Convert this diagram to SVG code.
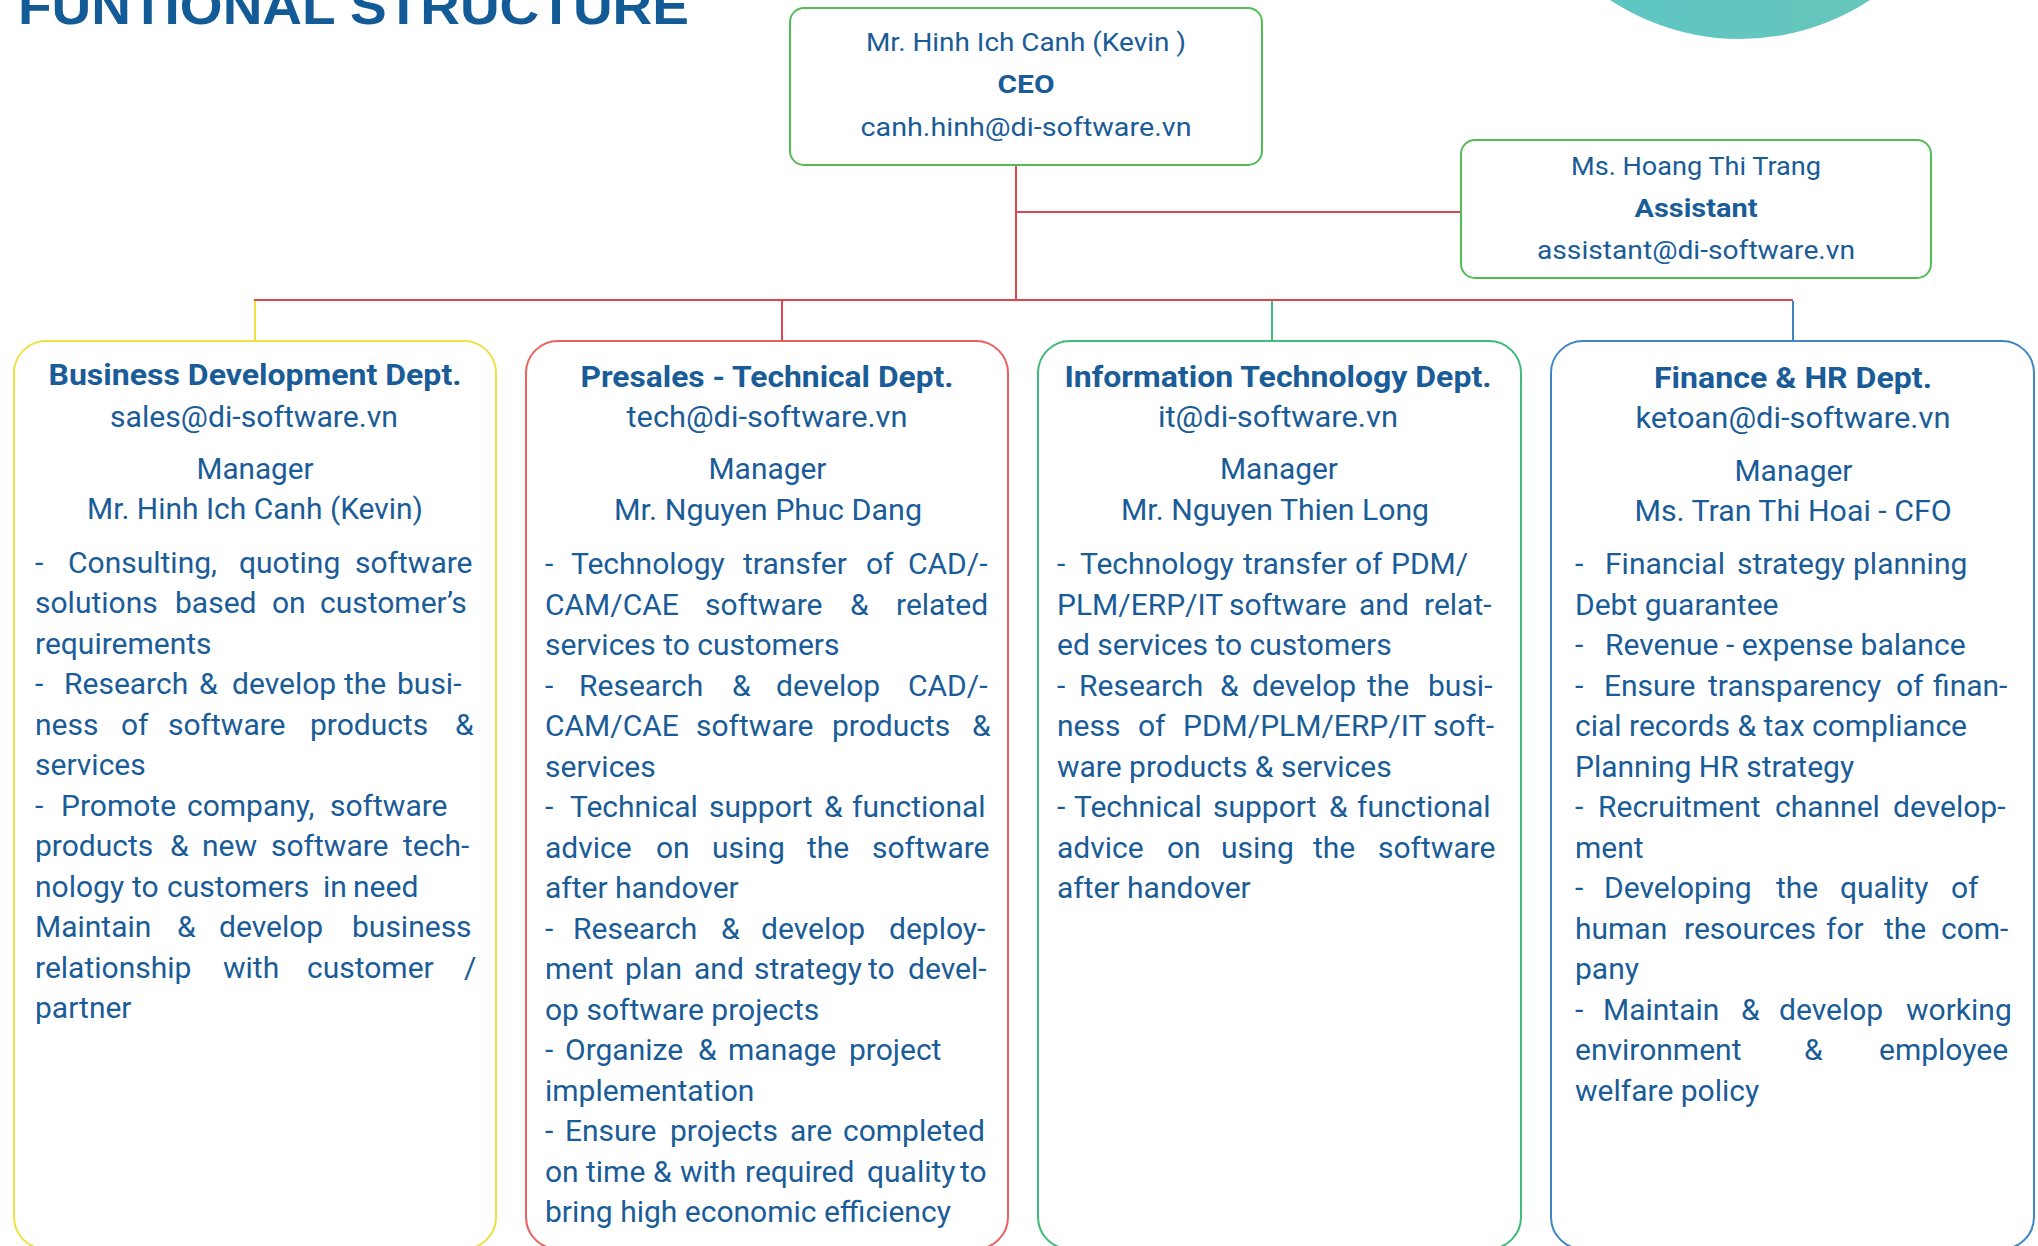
<svg xmlns="http://www.w3.org/2000/svg" width="2038" height="1246" viewBox="0 0 2038 1246">
<defs>
<linearGradient id="teal" x1="0" y1="0" x2="1" y2="0">
<stop offset="0" stop-color="#5DC6C7"/>
<stop offset="1" stop-color="#68C6B7"/>
</linearGradient>
</defs>
<style>
text{font-family:Roboto,"Liberation Sans",sans-serif;fill:#1A5C97;font-size:30px}
.c{text-anchor:middle}
.b{font-weight:bold}
.s{font-size:26.5px}
.box{fill:#fff;stroke-width:2}
.conn{fill:none;stroke-width:2}
.title{font-family:"Liberation Sans",Arial,sans-serif;font-weight:bold;font-size:52px;fill:#135B97}
</style>
<rect width="2038" height="1246" fill="#fff"/>
<circle cx="1740" cy="-197" r="236" fill="url(#teal)"/>
<text class="title" x="18" y="24" textLength="671" lengthAdjust="spacingAndGlyphs">FUNTIONAL STRUCTURE</text>

<g id="connectors">
<path class="conn" stroke="#DC4650" d="M1016 165V300M1016 212H1461M254 300H1793M782 300V341"/>
<path class="conn" stroke="#EEE142" d="M255 301V341"/>
<path class="conn" stroke="#3DBB78" d="M1272 301V341"/>
<path class="conn" stroke="#3F86C6" d="M1793 301V341"/>
</g>

<g id="ceo">
<rect class="box" x="790" y="8" width="472" height="157" rx="14" stroke="#52BD52"/>
<text class="c s" x="1026" y="51" textLength="320" lengthAdjust="spacingAndGlyphs">Mr. Hinh Ich Canh (Kevin )</text>
<text class="c s b" x="1026" y="93" textLength="57" lengthAdjust="spacingAndGlyphs">CEO</text>
<text class="c s" x="1026" y="135.5" textLength="331" lengthAdjust="spacingAndGlyphs">canh.hinh@di-software.vn</text>
</g>

<g id="assistant">
<rect class="box" x="1461" y="140" width="470" height="138" rx="14" stroke="#52BD52"/>
<text class="c s" x="1696" y="175" textLength="250" lengthAdjust="spacingAndGlyphs">Ms. Hoang Thi Trang</text>
<text class="c s b" x="1696" y="217" textLength="123" lengthAdjust="spacingAndGlyphs">Assistant</text>
<text class="c s" x="1696" y="259" textLength="318" lengthAdjust="spacingAndGlyphs">assistant@di-software.vn</text>
</g>

<g id="business">
<rect class="box" x="14" y="341" width="482" height="908" rx="32" stroke="#EEE142"/>
<text class="c b" x="255" y="385" textLength="413" lengthAdjust="spacingAndGlyphs">Business Development Dept.</text>
<text class="c" x="254" y="427" textLength="288" lengthAdjust="spacingAndGlyphs">sales@di-software.vn</text>
<text class="c" x="255" y="479" textLength="117" lengthAdjust="spacingAndGlyphs">Manager</text>
<text class="c" x="255" y="519" textLength="336" lengthAdjust="spacingAndGlyphs">Mr. Hinh Ich Canh (Kevin)</text>
<text y="572.5"><tspan x="35">-</tspan><tspan x="68">Consulting,</tspan><tspan x="239">quoting</tspan><tspan x="355">software</tspan></text>
<text y="613"><tspan x="35">solutions</tspan><tspan x="175">based</tspan><tspan x="272">on</tspan><tspan x="320">customer’s</tspan></text>
<text y="653.5" x="35">requirements</text>
<text y="694"><tspan x="35">-</tspan><tspan x="64">Research</tspan><tspan x="199">&amp;</tspan><tspan x="232">develop</tspan><tspan x="344">the</tspan><tspan x="397">busi-</tspan></text>
<text y="734.5"><tspan x="35">ness</tspan><tspan x="121">of</tspan><tspan x="168">software</tspan><tspan x="310">products</tspan><tspan x="455">&amp;</tspan></text>
<text y="775" x="35">services</text>
<text y="815.5"><tspan x="35">-</tspan><tspan x="61">Promote</tspan><tspan x="187">company,</tspan><tspan x="330">software</tspan></text>
<text y="856"><tspan x="35">products</tspan><tspan x="170">&amp;</tspan><tspan x="202">new</tspan><tspan x="271">software</tspan><tspan x="403">tech-</tspan></text>
<text y="896.5"><tspan x="35">nology</tspan><tspan x="132">to</tspan><tspan x="167">customers</tspan><tspan x="323">in</tspan><tspan x="353">need</tspan></text>
<text y="937"><tspan x="35">Maintain</tspan><tspan x="177">&amp;</tspan><tspan x="219">develop</tspan><tspan x="352">business</tspan></text>
<text y="977.5"><tspan x="35">relationship</tspan><tspan x="223">with</tspan><tspan x="307">customer</tspan><tspan x="464">/</tspan></text>
<text y="1018" x="35">partner</text>
</g>

<g id="presales">
<rect class="box" x="526" y="341" width="482" height="908" rx="32" stroke="#E8605F"/>
<text class="c b" x="767" y="387" textLength="373" lengthAdjust="spacingAndGlyphs">Presales - Technical Dept.</text>
<text class="c" x="767" y="427" textLength="281" lengthAdjust="spacingAndGlyphs">tech@di-software.vn</text>
<text class="c" x="767.5" y="479" textLength="118" lengthAdjust="spacingAndGlyphs">Manager</text>
<text class="c" x="768" y="520" textLength="308" lengthAdjust="spacingAndGlyphs">Mr. Nguyen Phuc Dang</text>
<text y="574"><tspan x="545">-</tspan><tspan x="571">Technology</tspan><tspan x="743">transfer</tspan><tspan x="866">of</tspan><tspan x="908">CAD/-</tspan></text>
<text y="614.5"><tspan x="545">CAM/CAE</tspan><tspan x="705">software</tspan><tspan x="850">&amp;</tspan><tspan x="896">related</tspan></text>
<text y="655" x="545">services to customers</text>
<text y="695.5"><tspan x="545">-</tspan><tspan x="579">Research</tspan><tspan x="732">&amp;</tspan><tspan x="776">develop</tspan><tspan x="908">CAD/-</tspan></text>
<text y="736"><tspan x="545">CAM/CAE</tspan><tspan x="696">software</tspan><tspan x="832">products</tspan><tspan x="972">&amp;</tspan></text>
<text y="776.5" x="545">services</text>
<text y="817"><tspan x="545">-</tspan><tspan x="570">Technical</tspan><tspan x="709">support</tspan><tspan x="824">&amp;</tspan><tspan x="852">functional</tspan></text>
<text y="857.5"><tspan x="545">advice</tspan><tspan x="656">on</tspan><tspan x="712">using</tspan><tspan x="807">the</tspan><tspan x="872">software</tspan></text>
<text y="898" x="545">after handover</text>
<text y="938.5"><tspan x="545">-</tspan><tspan x="573">Research</tspan><tspan x="721">&amp;</tspan><tspan x="761">develop</tspan><tspan x="889">deploy-</tspan></text>
<text y="979"><tspan x="545">ment</tspan><tspan x="625">plan</tspan><tspan x="694">and</tspan><tspan x="754">strategy</tspan><tspan x="868">to</tspan><tspan x="908">devel-</tspan></text>
<text y="1019.5" x="545">op software projects</text>
<text y="1060"><tspan x="545">-</tspan><tspan x="565">Organize</tspan><tspan x="698">&amp;</tspan><tspan x="728">manage</tspan><tspan x="849">project</tspan></text>
<text y="1100.5" x="545">implementation</text>
<text y="1141"><tspan x="545">-</tspan><tspan x="565">Ensure</tspan><tspan x="670">projects</tspan><tspan x="790">are</tspan><tspan x="843">completed</tspan></text>
<text y="1181.5"><tspan x="545">on</tspan><tspan x="586">time</tspan><tspan x="653">&amp;</tspan><tspan x="680">with</tspan><tspan x="745">required</tspan><tspan x="867">quality</tspan><tspan x="960">to</tspan></text>
<text y="1222" x="545">bring high economic efficiency</text>
</g>

<g id="it">
<rect class="box" x="1038" y="341" width="483" height="908" rx="32" stroke="#3DBB78"/>
<text class="c b" x="1278" y="387" textLength="427" lengthAdjust="spacingAndGlyphs">Information Technology Dept.</text>
<text class="c" x="1278" y="427" textLength="240" lengthAdjust="spacingAndGlyphs">it@di-software.vn</text>
<text class="c" x="1279" y="479" textLength="118" lengthAdjust="spacingAndGlyphs">Manager</text>
<text class="c" x="1275" y="520" textLength="308" lengthAdjust="spacingAndGlyphs">Mr. Nguyen Thien Long</text>
<text y="574"><tspan x="1057">-</tspan><tspan x="1080">Technology</tspan><tspan x="1243">transfer</tspan><tspan x="1355">of</tspan><tspan x="1391">PDM/</tspan></text>
<text y="614.5"><tspan x="1057">PLM/ERP/IT</tspan><tspan x="1229">software</tspan><tspan x="1359">and</tspan><tspan x="1424">relat-</tspan></text>
<text y="655" x="1057">ed services to customers</text>
<text y="695.5"><tspan x="1057">-</tspan><tspan x="1079">Research</tspan><tspan x="1220">&amp;</tspan><tspan x="1252">develop</tspan><tspan x="1367">the</tspan><tspan x="1428">busi-</tspan></text>
<text y="736"><tspan x="1057">ness</tspan><tspan x="1138">of</tspan><tspan x="1183">PDM/PLM/ERP/IT</tspan><tspan x="1433">soft-</tspan></text>
<text y="776.5" x="1057">ware products &amp; services</text>
<text y="817"><tspan x="1057">-</tspan><tspan x="1074">Technical</tspan><tspan x="1213">support</tspan><tspan x="1329">&amp;</tspan><tspan x="1357">functional</tspan></text>
<text y="857.5"><tspan x="1057">advice</tspan><tspan x="1167">on</tspan><tspan x="1221">using</tspan><tspan x="1313">the</tspan><tspan x="1378">software</tspan></text>
<text y="898" x="1057">after handover</text>
</g>

<g id="finance">
<rect class="box" x="1551" y="341" width="483" height="908" rx="32" stroke="#3F86C6"/>
<text class="c b" x="1793" y="388" textLength="278" lengthAdjust="spacingAndGlyphs">Finance &amp; HR Dept.</text>
<text class="c" x="1793" y="428" textLength="315" lengthAdjust="spacingAndGlyphs">ketoan@di-software.vn</text>
<text class="c" x="1793.5" y="481" textLength="118" lengthAdjust="spacingAndGlyphs">Manager</text>
<text class="c" x="1793" y="521" textLength="317" lengthAdjust="spacingAndGlyphs">Ms. Tran Thi Hoai - CFO</text>
<text y="574"><tspan x="1575">-</tspan><tspan x="1605">Financial</tspan><tspan x="1737">strategy</tspan><tspan x="1853">planning</tspan></text>
<text y="614.5" x="1575">Debt guarantee</text>
<text y="655"><tspan x="1575">-</tspan><tspan x="1605">Revenue - expense balance</tspan></text>
<text y="695.5"><tspan x="1575">-</tspan><tspan x="1604">Ensure</tspan><tspan x="1708">transparency</tspan><tspan x="1896">of</tspan><tspan x="1933">finan-</tspan></text>
<text y="736" x="1575">cial records &amp; tax compliance</text>
<text y="776.5" x="1575">Planning HR strategy</text>
<text y="817"><tspan x="1575">-</tspan><tspan x="1598">Recruitment</tspan><tspan x="1775">channel</tspan><tspan x="1893">develop-</tspan></text>
<text y="857.5" x="1575">ment</text>
<text y="898"><tspan x="1575">-</tspan><tspan x="1604">Developing</tspan><tspan x="1776">the</tspan><tspan x="1840">quality</tspan><tspan x="1951">of</tspan></text>
<text y="938.5"><tspan x="1575">human</tspan><tspan x="1684">resources</tspan><tspan x="1826">for</tspan><tspan x="1884">the</tspan><tspan x="1941">com-</tspan></text>
<text y="979" x="1575">pany</text>
<text y="1019.5"><tspan x="1575">-</tspan><tspan x="1603">Maintain</tspan><tspan x="1741">&amp;</tspan><tspan x="1779">develop</tspan><tspan x="1906">working</tspan></text>
<text y="1060"><tspan x="1575">environment</tspan><tspan x="1804">&amp;</tspan><tspan x="1879">employee</tspan></text>
<text y="1100.5" x="1575">welfare policy</text>
</g>
</svg>
